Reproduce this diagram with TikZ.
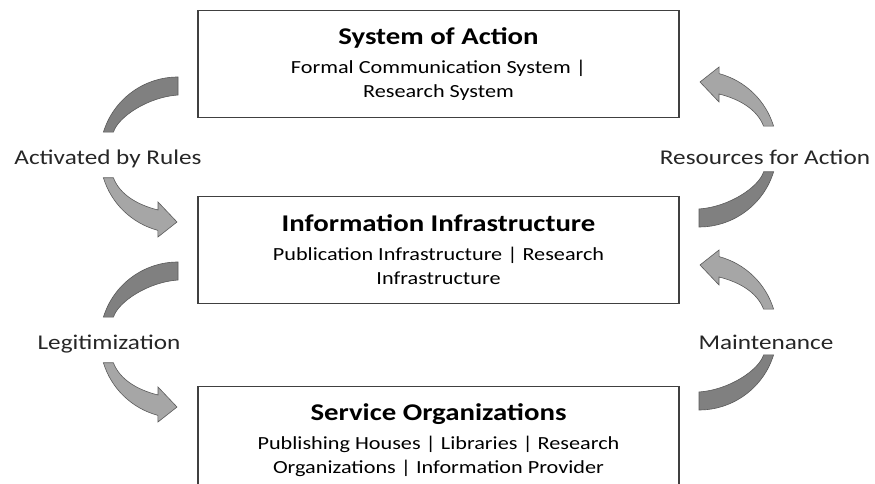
\documentclass[tikz,border=0pt]{standalone}
\usepackage{fontspec}
\setmainfont[FakeStretch=1.2]{Carlito}
\usetikzlibrary{positioning}
\definecolor{arrdark}{HTML}{808080}
\definecolor{arrlight}{HTML}{A6A6A6}
\definecolor{arredge}{HTML}{5A5A5A}

\tikzset{
  layerbox/.style={draw=black!75, line width=1.1pt, minimum width=481pt, minimum height=107pt,
    align=center, font=\fontsize{18.5}{24}\selectfont},
  flowlabel/.style={font=\fontsize{21}{25}\selectfont, text=black!85, anchor=base},
  turnarrow/.pic={
    % dark tail piece
    \filldraw[fill=arrdark, draw=arredge, line width=0.6pt]
      (0,78) arc[start angle=90, end angle=163, radius=78] -- ++(10,0)
      .. controls (-60,38) and (-30,58) .. (0,60) -- cycle;
    % light piece with head
    \filldraw[fill=arrlight, draw=arredge, line width=0.6pt]
      (-74.6,-22.8) arc[start angle=197, end angle=255, radius=78]
      -- (-20,-82) -- (-1,-67) -- (-20,-47) -- (-20,-55)
      .. controls (-40,-50) and (-58,-40) .. (-64.6,-22.8) -- cycle;
  }
}
\newcommand{\boxhead}[1]{{\fontsize{24}{28}\selectfont\bfseries #1}\\[5pt]}

\begin{document}
\begin{tikzpicture}[x=1pt, y=1pt]
  \clip (0,0) rectangle (875,484);

  \node[layerbox] (action) at (438.5,420)
    {\boxhead{System of Action}Formal Communication System |\\ Research System};
  \node[layerbox, below=78pt of action] (infra)
    {\boxhead{Information Infrastructure}Publication Infrastructure | Research\\ Infrastructure};
  \node[layerbox, below=82pt of infra] (service)
    {\boxhead{Service Organizations}Publishing Houses | Libraries | Research\\ Organizations | Information Provider};

  \node[flowlabel] (rules) at (108,319) {Activated by Rules};
  \node[flowlabel] (legit) at (109,134) {Legitimization};
  \node[flowlabel] (resources) at (765,319) {Resources for Action};
  \node[flowlabel] (maint) at (766,134) {Maintenance};

  \pic at (178,329) {turnarrow};
  \pic at (178,144) {turnarrow};
  \pic[rotate=180] at (699,335) {turnarrow};
  \pic[rotate=180] at (699,152) {turnarrow};
\end{tikzpicture}
\end{document}
